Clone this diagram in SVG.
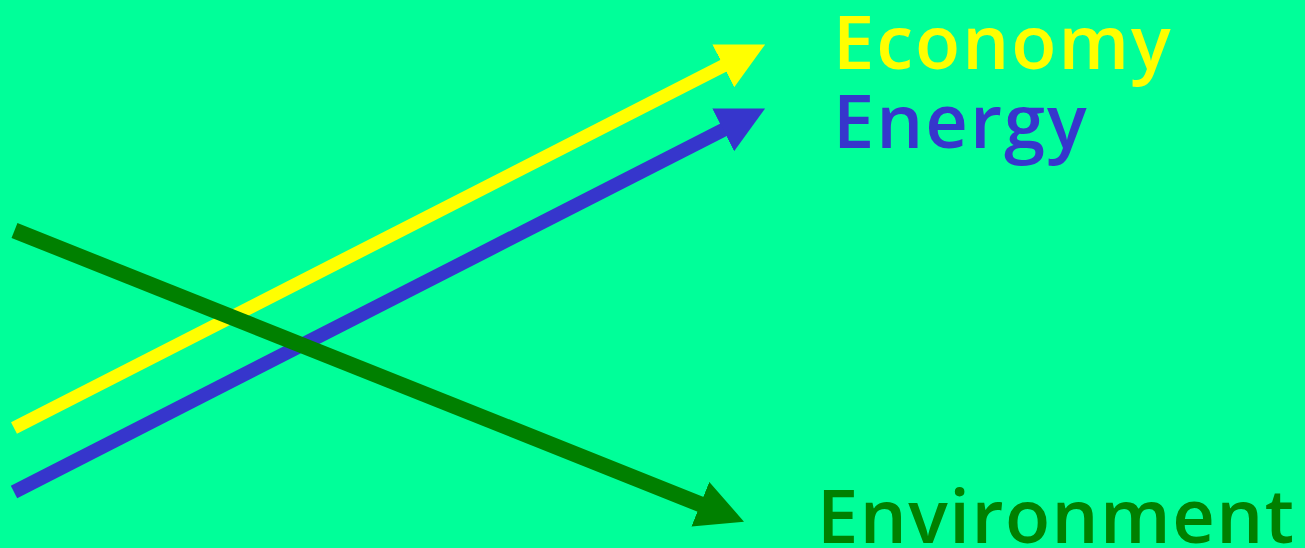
<svg xmlns="http://www.w3.org/2000/svg" width="1305" height="548" viewBox="0 0 1305 548">
  <defs>
    <style>
      .lbl { font-family: "Open Sans", sans-serif; font-weight: 600; font-size: 74px; letter-spacing: 2px; }
      .tight { letter-spacing: 1.5px; }
    </style>
    <marker id="ahY" markerUnits="userSpaceOnUse" markerWidth="48" markerHeight="48" refX="1" refY="24" orient="auto" viewBox="0 0 48 48">
      <path d="M0,0 L47,24 L0,48 Z" fill="#FFFF00"/>
    </marker>
    <marker id="ahB" markerUnits="userSpaceOnUse" markerWidth="48" markerHeight="48" refX="1" refY="24" orient="auto" viewBox="0 0 48 48">
      <path d="M0,0 L47,24 L0,48 Z" fill="#3636CC"/>
    </marker>
    <marker id="ahG" markerUnits="userSpaceOnUse" markerWidth="48" markerHeight="48" refX="1" refY="24" orient="auto" viewBox="0 0 48 48">
      <path d="M0,0 L47,24 L0,48 Z" fill="#008000"/>
    </marker>
  </defs>
  <rect x="0" y="0" width="1305" height="548" fill="#00FF99"/>
  <g id="connectors" fill="none">
    <line x1="14" y1="428" x2="724.2" y2="65.4" stroke="#FFFF00" stroke-width="13" marker-end="url(#ahY)"/>
    <line x1="14" y1="492" x2="724.1" y2="129.4" stroke="#3636CC" stroke-width="14" marker-end="url(#ahB)"/>
    <line x1="14.5" y1="230.5" x2="701.3" y2="504.6" stroke="#008000" stroke-width="16" marker-end="url(#ahG)"/>
  </g>
  <g id="economy"><text class="lbl" x="833" y="69" fill="#FFFF00">Economy</text></g>
  <g id="energy"><text class="lbl" x="833" y="148" fill="#3636CC">Energy</text></g>
  <g id="environment"><text class="lbl tight" x="817" y="543" fill="#008000">Environment</text></g>
</svg>
